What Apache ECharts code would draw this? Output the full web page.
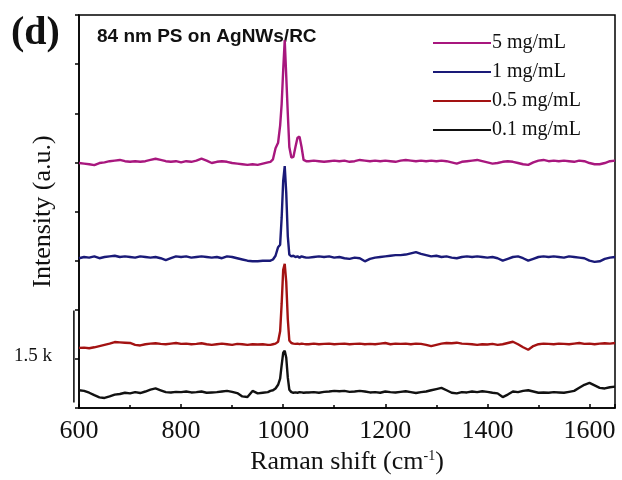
<!DOCTYPE html>
<html>
<head>
<meta charset="utf-8">
<script src="https://cdn.jsdelivr.net/npm/echarts@6/dist/echarts.min.js"></script>
<style>
  html, body { margin: 0; padding: 0; background: #fff; }
  #main { width: 622px; height: 480px; }
</style>
</head>
<body>
<div id="main"></div>
<script>
// Raman shift (cm-1), denser sampling around the 1001 peak
var shift = [
  600, 610, 620, 630, 640, 650, 660, 670, 680, 690,
  700, 710, 720, 730, 740, 750, 760, 770, 780, 790,
  800, 810, 820, 830, 840, 850, 860, 870, 880, 890,
  900, 910, 920, 930, 940, 950, 960, 970,
  975, 980, 985, 990, 994, 997, 1000, 1003, 1006, 1009, 1012, 1016, 1020, 1024, 1028, 1032, 1036, 1040, 1045,
  1050, 1060, 1070, 1080, 1090, 1100, 1110, 1120, 1130, 1140,
  1150, 1160, 1170, 1180, 1190, 1200, 1210, 1220, 1230, 1240,
  1250, 1260, 1270, 1280, 1290, 1300, 1310, 1320, 1330, 1340,
  1350, 1360, 1370, 1380, 1390, 1400, 1410, 1420, 1430, 1440,
  1450, 1460, 1470, 1480, 1490, 1500, 1510, 1520, 1530, 1540,
  1550, 1560, 1570, 1580, 1590, 1600, 1610, 1620, 1630, 1640,
  1650
];

// intensities (counts, stacked with offsets as in the figure)
var conc5 = [
  3990, 3980, 3970, 3955, 3990, 4000, 4020, 4030, 4040, 4020,
  4010, 4020, 4010, 4020, 4040, 4060, 4040, 4020, 4010, 4020,
  4000, 4020, 4010, 4030, 4060, 4030, 3990, 4010, 4020, 4010,
  3990, 3980, 3970, 3960, 3970, 3960, 3980, 4000,
  4010, 4050, 4230, 4320, 4600, 4950, 5500, 5990, 5400, 4800, 4250, 4080, 4090, 4250, 4400, 4420, 4250, 4040, 4020,
  4020, 4030, 4020, 4010, 4020, 4030, 4020, 4030, 4010, 4020,
  4040, 4030, 4020, 4030, 4020, 4030, 4020, 4010, 4030, 4040,
  4030, 4020, 4030, 4020, 4030, 4020, 4030, 4020, 4000, 3980,
  4010, 4020, 4030, 4040, 4020, 4000, 3980, 3990, 4010, 4020,
  4010, 3990, 3970, 3960, 4000, 4030, 4040, 4020, 4030, 4020,
  4030, 4020, 4010, 4030, 4020, 3990, 3970, 3970, 3990, 4020,
  4030
];
var conc1 = [
  2440, 2460, 2450, 2470, 2440, 2460, 2470, 2480, 2460, 2470,
  2460, 2450, 2470, 2460, 2450, 2460, 2440, 2410, 2440, 2470,
  2460, 2470, 2450, 2460, 2470, 2460, 2450, 2460, 2440, 2470,
  2460, 2440, 2420, 2400, 2390, 2390, 2400, 2400,
  2400, 2420, 2480, 2620, 2660, 3100, 3700, 3940, 3500, 2800, 2500, 2470, 2480, 2460, 2470, 2450, 2470, 2460, 2450,
  2450, 2460, 2470, 2460, 2470, 2450, 2460, 2440, 2430, 2450,
  2440, 2390, 2430, 2450, 2460, 2470, 2480, 2490, 2490, 2500,
  2520, 2540, 2510, 2490, 2470, 2480, 2460, 2470, 2450, 2440,
  2460, 2470, 2460, 2470, 2460, 2450, 2460, 2440, 2400, 2430,
  2460, 2470, 2440, 2400, 2430, 2460, 2470, 2460, 2470, 2460,
  2450, 2470, 2460, 2450, 2440, 2400, 2380, 2390, 2430, 2450,
  2460
];
var conc05 = [
  980, 985, 975, 990, 1010, 1030, 1050, 1075, 1070, 1065,
  1060, 1030, 1020, 1040, 1050, 1055, 1045, 1040, 1050, 1060,
  1045, 1050, 1040, 1045, 1055, 1040, 1030, 1040, 1050, 1040,
  1030, 1045, 1040, 1030, 1040, 1035, 1040, 1030,
  1030, 1040, 1050, 1080, 1250, 1700, 2250, 2348, 2050, 1450, 1100, 1060, 1050, 1045, 1050, 1040, 1050, 1045, 1040,
  1040, 1050, 1040, 1045, 1050, 1040, 1045, 1050, 1040, 1045,
  1050, 1040, 1045, 1040, 1050, 1060, 1040, 1050, 1045, 1050,
  1040, 1050, 1045, 1030, 1010, 1030, 1050, 1060, 1055, 1065,
  1050, 1045, 1040, 1030, 1040, 1035, 1045, 1030, 1040, 1060,
  1080, 1040, 990, 950, 1010, 1040, 1050, 1045, 1040, 1050,
  1045, 1040, 1050, 1060, 1045, 1050, 1040, 1050, 1055, 1050,
  1060
];
var conc01 = [
  290, 280, 250, 210, 175, 165, 190, 220, 230, 250,
  240, 260, 245, 270, 300, 320, 290, 260, 255, 265,
  260, 270, 255, 260, 270, 250, 255, 260, 270, 280,
  265, 245, 190, 180, 280, 240, 250, 260,
  280, 290, 320, 380, 480, 700, 900, 935, 820, 500, 300, 260, 250, 255, 250, 260, 255, 250, 255,
  255, 260, 250, 265, 270, 280, 275, 280, 265, 270,
  280, 270, 255, 260, 250, 270, 260, 255, 265, 275,
  260, 245, 260, 270, 290, 310, 330, 290, 250, 240,
  260, 255, 270, 260, 275, 265, 250, 240, 180, 220,
  270, 260, 280, 290, 270, 250, 255, 250, 260, 255,
  250, 265, 280, 330, 380, 410, 370, 330, 320, 340,
  350
];

var names = ['5 mg/mL', '1 mg/mL', '0.5 mg/mL', '0.1 mg/mL'];
var colors = ['#a8177e', '#1a1a78', '#a31212', '#111111'];
var xTicks = [600, 800, 1000, 1200, 1400, 1600];

// 1.5 k intensity scale bar
var scaleX = 590;
var scaleY = [90, 1590];

function pairs(ys) {
  return shift.map(function (x, i) { return [x, ys[i]]; });
}

var myChart = echarts.init(document.getElementById('main'));
var serif = 'Liberation Serif';

var lines = [conc5, conc1, conc05, conc01].map(function (ys, k) {
  return {
    name: names[k],
    type: 'line',
    data: pairs(ys),
    showSymbol: false,
    symbol: 'none',
    lineStyle: { color: colors[k], width: 2.4 },
    itemStyle: { color: colors[k] },
    z: 3
  };
});

// scale bar, placed through the axes
lines.push({
  name: 'scale',
  type: 'custom',
  clip: false,
  silent: true,
  data: [[scaleX, scaleY[0], scaleY[1]]],
  renderItem: function (params, api) {
    var p0 = api.coord([api.value(0), api.value(1)]);
    var p1 = api.coord([api.value(0), api.value(2)]);
    return {
      type: 'line',
      shape: { x1: p0[0], y1: p0[1], x2: p1[0], y2: p1[1] },
      style: { stroke: '#000', lineWidth: 1.5 }
    };
  }
});

var option = {
  animation: false,
  backgroundColor: '#fff',
  grid: {
    left: 79, right: 7, top: 15, bottom: 67,
    show: true, borderColor: '#000', borderWidth: 1.5
  },
  legend: {
    data: names,
    orient: 'vertical',
    left: 428,
    top: 28,
    icon: 'rect',
    itemWidth: 58,
    itemHeight: 2,
    itemGap: 9,
    textStyle: { fontFamily: serif, fontSize: 20, color: '#111', padding: [0, 0, 0, -4] }
  },
  graphic: [
    { type: 'text', left: 11, top: 14,
      style: { text: '(d)', font: 'bold 40px "Liberation Serif"', fill: '#111' } },
    { type: 'text', left: 97, top: 27,
      style: { text: '84 nm PS on AgNWs/RC', font: 'bold 19px "Liberation Sans"', fill: '#111' } },
    { type: 'text', left: 14, top: 347,
      style: { text: '1.5 k', font: '19px "Liberation Serif"', fill: '#111' } }
  ],
  xAxis: {
    type: 'value',
    min: 600,
    max: 1650,
    interval: 200,
    name: '{a|Raman shift (cm}{s|-1}{a|)}',
    nameLocation: 'middle',
    nameGap: 40,
    nameTextStyle: {
      rich: {
        a: { fontFamily: serif, fontSize: 26, color: '#111' },
        s: { fontFamily: serif, fontSize: 14, color: '#111', verticalAlign: 'top', padding: [0, 0, 12, 0] }
      }
    },
    axisLine: { lineStyle: { color: '#000', width: 1.5 } },
    axisTick: { inside: true, length: 4, lineStyle: { color: '#000', width: 1.5 } },
    minorTick: { show: true, splitNumber: 2, length: 3, lineStyle: { color: '#000', width: 1.5 } },
    splitLine: { show: false },
    axisLabel: {
      fontFamily: serif, fontSize: 26, color: '#111', margin: 10,
      customValues: xTicks,
      formatter: function (v) { return xTicks.indexOf(v) >= 0 ? String(v) : ''; }
    }
  },
  yAxis: {
    type: 'value',
    min: 0,
    max: 6400,
    interval: 800,
    name: 'Intensity (a.u.)',
    nameLocation: 'middle',
    nameGap: 23,
    nameTextStyle: { fontFamily: serif, fontSize: 26, color: '#111' },
    axisLine: { show: true, lineStyle: { color: '#000', width: 1.5 } },
    axisTick: { show: true, inside: false, length: 4, lineStyle: { color: '#000', width: 1.5 } },
    splitLine: { show: false },
    axisLabel: { show: false }
  },
  series: lines
};

myChart.setOption(option);
</script>
</body>
</html>
